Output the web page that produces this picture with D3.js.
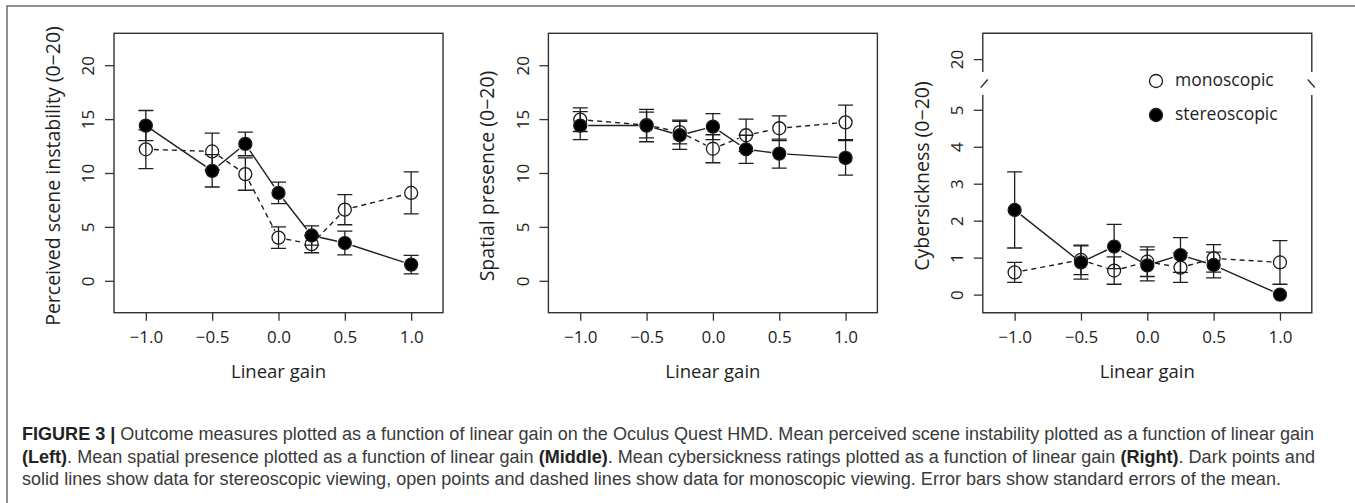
<!DOCTYPE html>
<html>
<head>
<meta charset="utf-8">
<script src="https://cdn.jsdelivr.net/npm/d3@7"></script>
<style>
body { margin: 0; background: #fff; }
svg text { font-family: "Open Sans", sans-serif; fill: #1e1e1e; }
svg text.caption { font-family: "Liberation Sans", Arial, sans-serif; fill: #3a3a3a; }
</style>
</head>
<body>
<div id="figure"></div>
<script>
// DATA

var gains = [-1, -0.5, -0.25, 0, 0.25, 0.5, 1]
var gainTicks = [-1, -0.5, 0, 0.5, 1]

var instabilityMono = [12.2, 12.0, 9.9, 4.0, 3.4, 6.6, 8.15]
var instabilityMonoSE = [1.8, 1.7, 1.5, 1.0, 0.8, 1.4, 1.95]
var instabilityStereo = [14.4, 10.2, 12.7, 8.15, 4.2, 3.5, 1.5]
var instabilityStereoSE = [1.4, 1.5, 1.1, 1.0, 0.9, 1.1, 0.85]

var presenceMono = [14.95, 14.45, 13.8, 12.25, 13.5, 14.15, 14.7]
var presenceMonoSE = [1.1, 1.2, 1.1, 1.3, 1.5, 1.15, 1.6]
var presenceStereo = [14.4, 14.4, 13.5, 14.3, 12.2, 11.8, 11.4]
var presenceStereoSE = [1.3, 1.5, 1.3, 1.2, 1.3, 1.35, 1.6]

var sicknessMono = [0.6, 0.94, 0.65, 0.89, 0.73, 0.98, 0.87]
var sicknessMonoSE = [0.27, 0.4, 0.37, 0.4, 0.4, 0.37, 0.59]
var sicknessStereo = [2.29, 0.87, 1.3, 0.79, 1.07, 0.8, 0.0]
var sicknessStereoSE = [1.03, 0.45, 0.6, 0.42, 0.47, 0.35, 0]

var scaleTicks = [0, 5, 10, 15, 20]
var sicknessTicks = [0, 1, 2, 3, 4, 5, 20]

var yTitles = ["Perceived scene instability (0\u221220)", "Spatial presence (0\u221220)", "Cybersickness (0\u221220)"]
var xTitle = "Linear gain"
var legendLabels = ["monoscopic", "stereoscopic"]

var captionLines = [
    [["FIGURE 3 | ", true], ["Outcome measures plotted as a function of linear gain on the Oculus Quest HMD. Mean perceived scene instability plotted as a function of linear gain", false]],
    [["(Left)", true], [". Mean spatial presence plotted as a function of linear gain ", false], ["(Middle)", true], [". Mean cybersickness ratings plotted as a function of linear gain ", false], ["(Right)", true], [". Dark points and", false]],
    [["solid lines show data for stereoscopic viewing, open points and dashed lines show data for monoscopic viewing. Error bars show standard errors of the mean.", false]]
]

// LAYOUT

var svgWidth = 1355
var svgHeight = 503

var boxLeft = 114
var boxWidth = 329
var pitch = 434.4
var boxTop = 33.3
var boxBottom = 312.7
var pointR = 6.5
var ink = "#1e1e1e"

var svg = d3.select("#figure").append("svg")
    .attr("width", svgWidth)
    .attr("height", svgHeight)

svg.append("rect")
    .attr("width", svgWidth)
    .attr("height", svgHeight)
    .attr("fill", "#fff")

// outer figure frame (open to the right and bottom)
svg.append("path")
    .attr("d", `M7,${svgHeight} L7,6 L${svgWidth},6`)
    .attr("fill", "none")
    .attr("stroke", "#6a6a6a")
    .attr("stroke-width", 1.5)

var panels = [
    {mono: instabilityMono, monoSE: instabilityMonoSE, stereo: instabilityStereo, stereoSE: instabilityStereoSE, ticks: scaleTicks, broken: false},
    {mono: presenceMono, monoSE: presenceMonoSE, stereo: presenceStereo, stereoSE: presenceStereoSE, ticks: scaleTicks, broken: false},
    {mono: sicknessMono, monoSE: sicknessMonoSE, stereo: sicknessStereo, stereoSE: sicknessStereoSE, ticks: sicknessTicks, broken: true}
]

panels.forEach((p, i) => drawPanel(p, i))

function drawPanel(p, i) {
    var left = boxLeft + i * pitch
    var right = left + boxWidth
    var g = svg.append("g")

    var x = d3.scaleLinear().domain([-1.24, 1.24]).range([left, right])
    var y
    if (p.broken) {
        // broken axis: 0-5 below the gap, 20 above
        y = d3.scaleLinear().domain([-0.49, 5.4, 19.65, 20.7]).range([boxBottom, 95, 72, boxTop])
    } else {
        y = d3.scaleLinear().domain([-2.96, 22.96]).range([boxBottom, boxTop])
    }

    // box
    if (p.broken) {
        var gapTop = y(19.65), gapBottom = y(5.4)
        g.append("path")
            .attr("d", `M${left},${gapTop} L${left},${boxTop} L${right},${boxTop} L${right},${gapTop}` +
                ` M${left},${gapBottom} L${left},${boxBottom} L${right},${boxBottom} L${right},${gapBottom}`)
            .attr("fill", "none")
            .attr("stroke", "#333")
            .attr("stroke-width", 1.4)
        var mid = (gapTop + gapBottom) / 2
        g.append("line")
            .attr("x1", left - 2).attr("y1", mid + 4)
            .attr("x2", left + 5).attr("y2", mid - 4)
            .attr("stroke", "#333").attr("stroke-width", 1.4)
        g.append("line")
            .attr("x1", right - 4).attr("y1", mid - 4)
            .attr("x2", right + 3).attr("y2", mid + 4)
            .attr("stroke", "#333").attr("stroke-width", 1.4)
    } else {
        g.append("rect")
            .attr("x", left).attr("y", boxTop)
            .attr("width", boxWidth).attr("height", boxBottom - boxTop)
            .attr("fill", "none")
            .attr("stroke", "#333")
            .attr("stroke-width", 1.4)
    }

    // axes
    var xAxis = d3.axisBottom(x).tickValues(gainTicks).tickSize(8).tickFormat(d3.format(".1f"))
    var gx = g.append("g")
        .attr("transform", `translate(0,${boxBottom})`)
        .call(xAxis)
    gx.select(".domain").remove()
    gx.attr("font-family", null).attr("font-size", 17).attr("color", "#333")
    gx.selectAll("line").attr("stroke-width", 1.3)
    gx.selectAll("text").attr("y", 24).attr("dy", "0.36em")

    var yAxis = d3.axisLeft(y).tickValues(p.ticks).tickSize(9).tickFormat(d3.format("d"))
    var gy = g.append("g")
        .attr("transform", `translate(${left},0)`)
        .call(yAxis)
    gy.select(".domain").remove()
    gy.attr("font-family", null).attr("font-size", 17).attr("color", "#333")
    gy.selectAll("line").attr("stroke-width", 1.3)
    gy.selectAll("text")
        .attr("x", 0)
        .attr("dy", "0.36em")
        .attr("text-anchor", "middle")
        .attr("transform", "translate(-26,0) rotate(-90)")

    g.append("text")
        .attr("x", (left + right) / 2)
        .attr("y", 371)
        .attr("dy", "0.36em")
        .attr("text-anchor", "middle")
        .attr("font-size", 18.5)
        .text(xTitle)

    g.append("text")
        .attr("transform", `translate(${left - 61},176) rotate(-90)`)
        .attr("dy", "0.36em")
        .attr("text-anchor", "middle")
        .attr("font-size", 19.5)
        .text(yTitles[i])

    // series
    var series = [
        {vals: p.mono, se: p.monoSE, dash: "5,4", filled: false},
        {vals: p.stereo, se: p.stereoSE, dash: null, filled: true}
    ]

    series.forEach(s => {
        var pts = gains.map((gv, k) => [x(gv), y(s.vals[k])])

        // connecting segments, stopping short of the points (type = "b")
        for (var k = 0; k < pts.length - 1; k++) {
            var a = pts[k], b = pts[k + 1]
            var dx = b[0] - a[0], dy = b[1] - a[1]
            var len = Math.sqrt(dx * dx + dy * dy)
            var cut = pointR + 1.5
            if (len <= 2 * cut) continue
            g.append("line")
                .attr("x1", a[0] + dx * cut / len).attr("y1", a[1] + dy * cut / len)
                .attr("x2", b[0] - dx * cut / len).attr("y2", b[1] - dy * cut / len)
                .attr("stroke", ink)
                .attr("stroke-width", 1.4)
                .attr("stroke-dasharray", s.dash)
        }

        // error bars
        gains.forEach((gv, k) => {
            if (!s.se[k]) return
            var cx = x(gv)
            var top = y(s.vals[k] + s.se[k])
            var bot = y(s.vals[k] - s.se[k])
            g.append("path")
                .attr("d", `M${cx},${top} L${cx},${bot} M${cx - 7.5},${top} L${cx + 7.5},${top} M${cx - 7.5},${bot} L${cx + 7.5},${bot}`)
                .attr("fill", "none")
                .attr("stroke", ink)
                .attr("stroke-width", 1.3)
        })

        g.selectAll(null)
            .data(pts)
            .enter()
            .append("circle")
            .attr("cx", d => d[0])
            .attr("cy", d => d[1])
            .attr("r", pointR)
            .attr("fill", s.filled ? "#000" : "none")
            .attr("stroke", ink)
            .attr("stroke-width", 1.3)
    })

    // legend in right panel
    if (p.broken) {
        var lg = g.append("g")
        legendLabels.forEach((lab, k) => {
            var ly = 80 + k * 34
            lg.append("circle")
                .attr("cx", 1156).attr("cy", ly + 1)
                .attr("r", pointR)
                .attr("fill", k == 0 ? "none" : "#000")
                .attr("stroke", ink)
                .attr("stroke-width", 1.3)
            lg.append("text")
                .attr("x", 1175).attr("y", ly)
                .attr("dy", "0.36em")
                .attr("font-size", 17.5)
                .text(lab)
        })
    }
}

// CAPTION
var captionX = 22
var captionY = [440, 463, 485]
var capNodes = captionLines.map((parts, li) => {
    var t = svg.append("text")
        .classed("caption", true)
        .attr("x", captionX)
        .attr("y", captionY[li])
        .attr("font-size", 16)
    parts.forEach(pt => {
        t.append("tspan")
            .attr("font-weight", pt[1] ? "bold" : null)
            .style("fill", pt[1] ? "#222" : null)
            .text(pt[0])
    })
    return t
})
// fit font size so the first line spans the same width as in the figure
var w0 = capNodes[0].node().getComputedTextLength()
var fs = 16 * 1293 / w0
capNodes.forEach(t => t.attr("font-size", fs))
</script>
</body>
</html>
